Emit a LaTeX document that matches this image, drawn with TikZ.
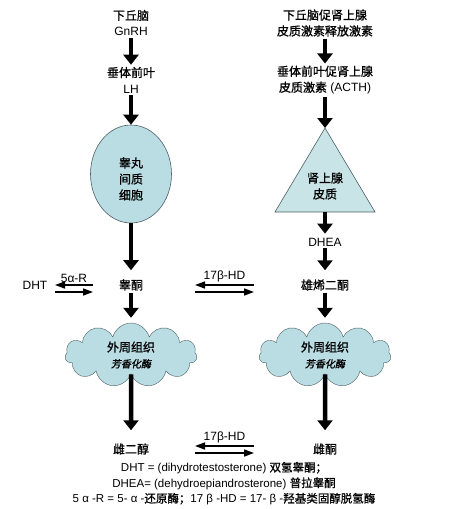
\documentclass[tikz,border=0pt]{standalone}
\usepackage{fontspec}
\setmainfont{Liberation Sans}
\newfontfamily\cjk{Noto Sans CJK SC}[FakeBold=1]
\newfontfamily\cjkit{Noto Sans CJK SC}[FakeSlant=0.2, FakeBold=1]
\usetikzlibrary{arrows.meta, calc}
\usetikzlibrary{shapes.geometric, shapes.symbols, positioning}
\definecolor{glandfill}{RGB}{185,221,227}
\definecolor{trifill}{RGB}{200,228,231}
\definecolor{glandline}{RGB}{75,95,100}
\tikzset{
	every node/.style = {font=\fontsize{12}{16}\selectfont, align=center, inner sep=2pt},
	big arrow/.style = {line width=4.5pt, -{Triangle[width=15pt,length=10pt]}},
	eq arrow/.style = {line width=1.5pt, -{Triangle[width=7pt,length=10pt]}}
}

\begin{document}
\begin{tikzpicture}[x=1pt, y=-1pt]
            \tikzstyle{semithin} = [line width=0.6pt]
            \tikzstyle{gland} = [draw=glandline, fill=glandfill, semithin]
            \tikzstyle{tissue} = [cloud, cloud puffs=11, aspect=2, draw=glandline,
                fill=glandfill, minimum width=132pt, minimum height=64pt, inner sep=0pt]
            \useasboundingbox (0,0) rectangle (450,509);

            % testis side
            \node (gnrh) at (131,23) {{\cjk 下丘脑}\\GnRH};
            \node (lh) at (131,80) {{\cjk 垂体前叶}\\LH};
            \node [ellipse, gland, minimum width=81pt, minimum height=98pt] (leydig) at (131,174) {};
            \node (leydig text) at (131,179) {{\cjk 睾丸}\\{\cjk 间质}\\{\cjk 细胞}};
            \node (testo) at (131,285) {\cjk 睾酮};
            \node [tissue] (left cloud) at (131,355) {{\cjk 外周组织}\\{\fontsize{10}{14}\cjkit 芳香化酶}};
            \node (estradiol) at (131,449) {\cjk 雌二醇};
            \node (dht) at (35,285) {DHT};

            \draw [big arrow] (gnrh) -- (lh);
            \draw [big arrow] (lh) -- (leydig);
            \draw [big arrow, shorten >=7pt] (leydig) -- (testo);
            \draw [big arrow, shorten >=5pt] (testo) -- (left cloud);
            \draw [big arrow, shorten >=11pt] (left cloud) -- (estradiol);

            % adrenal side
            \node (crh) at (325,23) {{\cjk 下丘脑促肾上腺}\\{\cjk 皮质激素释放激素}};
            \node (acth) at (325,80) {{\cjk 垂体前叶促肾上腺}\\{\cjk 皮质激素} (ACTH)};
            \coordinate (apex) at (325,128);
            \coordinate (base) at (325,212);
            \draw [gland, fill=trifill] (apex) -- (375,212) -- (275,212) -- cycle;
            \node (adrenal) at (325,186) {{\cjk 肾上腺}\\{\cjk 皮质}};
            \node (dhea) at (325,242) {DHEA};
            \node (andro) at (325,285) {\cjk 雄烯二酮};
            \node [tissue] (right cloud) at (325,355) {{\cjk 外周组织}\\{\fontsize{10}{14}\cjkit 芳香化酶}};
            \node (estrone) at (325,449) {\cjk 雌酮};

            \draw [big arrow] (crh) -- (acth);
            \draw [big arrow] (acth) -- (apex);
            \draw [big arrow, shorten >=2pt] (base) -- (dhea);
            \draw [big arrow, shorten >=7pt] (dhea) -- (andro);
            \draw [big arrow, shorten >=5pt] (andro) -- (right cloud);
            \draw [big arrow, shorten >=11pt] (right cloud) -- (estrone);

            % reversible steps
            \coordinate (r5 l) at (55,285);
            \coordinate (r5 r) at (93,285);
            \coordinate (hd1 l) at (195,285);
            \coordinate (hd1 r) at (254,285);
            \coordinate (hd2 l) at (195,446);
            \coordinate (hd2 r) at (254,446);

            \draw [eq arrow] (r5 r) -- node[anchor=south, name=r5] {5α-R} (r5 l);
            \draw [eq arrow] ([yshift=-7pt]r5 l) -- ([yshift=-7pt]r5 r);
            \draw [eq arrow] (hd1 r) -- node[anchor=south, name=hd1] {17β-HD} (hd1 l);
            \draw [eq arrow] ([yshift=-7pt]hd1 l) -- ([yshift=-7pt]hd1 r);
            \draw [eq arrow] (hd2 r) -- node[anchor=south, name=hd2] {17β-HD} (hd2 l);
            \draw [eq arrow] ([yshift=-7pt]hd2 l) -- ([yshift=-7pt]hd2 r);

            % legend
            \node [font=\fontsize{11.5}{15.5}\selectfont] (legend) at (224,483.5)
                {DHT = (dihydrotestosterone) {\cjk 双氢睾酮；}\\
                 DHEA= (dehydroepiandrosterone) {\cjk 普拉睾酮}\\
                 5 α -R = 5- α -{\cjk 还原酶；}17 β -HD = 17- β -{\cjk 羟基类固醇脱氢酶}};
        \end{tikzpicture}
\end{document}
